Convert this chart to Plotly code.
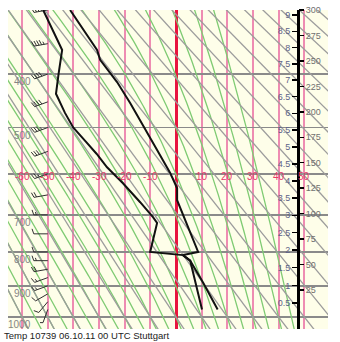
import numpy as np
import plotly.graph_objects as go

# ---------------- data ----------------
temp_p = [975, 890, 825, 809, 800, 663, 634, 598, 547, 500, 452, 414, 376, 360, 300]
temp_t = [16.2, 10.5, 5.5, 2.7, 8.6, 0.4, 0.4, -2.3, -7.4, -12.5, -17.9, -23.0, -29.6, -30.8, -41.3]

dew_p = [975, 825, 809, 800, 721, 706, 668, 622, 585, 555, 530, 500, 471, 435, 400, 360, 300]
dew_t = [10.1, 5.5, 2.7, -10.1, -7.4, -9.0, -14.0, -20.7, -26.9, -31.0, -35.0, -40.1, -43.3, -46.8, -45.8, -44.4, -51.8]

wind_p = [975, 950, 925, 900, 875, 850, 825, 800, 750, 700, 650, 600, 550, 500, 450, 400, 350, 300]
wind_dir = [200, 220, 240, 250, 250, 260, 270, 270, 270, 270, 260, 250, 250, 250, 250, 250, 260, 260]
wind_kt = [5, 10, 10, 15, 15, 20, 15, 10, 10, 15, 20, 25, 30, 35, 40, 40, 45, 45]

isobars = [300, 400, 500, 600, 700, 800, 900, 1000]
isobar_labels = [400, 500, 700, 800, 900, 1000]
isotherms = [-60, -50, -40, -30, -20, -10, 0, 10, 20, 30, 40, 50]
isotherm_labels = [-60, -50, -40, -30, -20, -10, 10, 20, 30, 40, 50]
dry_theta_c = list(range(-70, 200, 10))          # potential temperature, deg C
moist_thetaw_c = list(range(-60, 50, 5))         # wet-bulb pot. temperature, deg C
km_labels = [0.5, 1, 1.5, 2, 2.5, 3, 3.5, 4, 4.5, 5, 5.5, 6, 6.5, 7, 7.5, 8, 8.5, 9]
right_scale = [25, 50, 75, 100, 125, 150, 175, 200, 225, 250, 275, 300]
caption = "Temp 10739 06.10.11 00 UTC Stuttgart"

# ---------------- diagram geometry (Stuve: y = p^kappa) ----------------
KAPPA = 0.286
W, H = 340, 342
ML, MR, MT, MB = 8, 12, 10, 13
X_RANGE = [-65.5, 59.2]
P_BOTTOM, P_TOP = 1040.0, 300.0


def pk(p):
    return np.power(np.asarray(p, dtype=float), KAPPA)


Y_RANGE = [float(pk(P_BOTTOM)), float(pk(P_TOP))]
PW, PH = W - ML - MR, H - MT - MB
SX = PW / (X_RANGE[1] - X_RANGE[0])        # px per deg C
SY = PH / (Y_RANGE[0] - Y_RANGE[1])        # px per pk unit

p_grid = np.linspace(P_BOTTOM + 10, P_TOP - 5, 120)

# dry adiabats
dx, dy = [], []
for th in dry_theta_c:
    t = (th + 273.15) * (p_grid / 1000.0) ** KAPPA - 273.15
    dx += list(t) + [None]
    dy += list(pk(p_grid)) + [None]

# moist adiabats (numerical integration of pseudo-adiabatic lapse rate)
Rd, Cp, Lv, EPS = 287.04, 1005.7, 2.501e6, 0.622


def dTdp(T, p):
    es = 6.112 * np.exp(17.67 * (T - 273.15) / (T - 29.65))
    rs = EPS * es / (p - es)
    return (Rd * T + Lv * rs) / (Cp + Lv * Lv * rs * EPS / (Rd * T * T)) / p


def integrate(T0, p0, p1, n=140):
    ps = np.linspace(p0, p1, n)
    Ts = [T0]
    for i in range(1, n):
        h = ps[i] - ps[i - 1]
        T, p = Ts[-1], ps[i - 1]
        k1 = dTdp(T, p)
        k2 = dTdp(T + h * k1 / 2, p + h / 2)
        k3 = dTdp(T + h * k2 / 2, p + h / 2)
        k4 = dTdp(T + h * k3, p + h)
        Ts.append(T + h * (k1 + 2 * k2 + 2 * k3 + k4) / 6)
    return ps, np.array(Ts)


mx, my = [], []
for tw in moist_thetaw_c:
    pu, tu = integrate(tw + 273.15, 1000.0, P_TOP - 5)
    pd, td = integrate(tw + 273.15, 1000.0, P_BOTTOM + 10, 20)
    ps = np.concatenate([pd[::-1], pu[1:]])
    ts = np.concatenate([td[::-1], tu[1:]]) - 273.15
    mx += list(ts) + [None]
    my += list(pk(ps)) + [None]

# wind barbs (pixel-consistent lengths)
ST_T = -50.0
STAFF, FULL, HALF, GAP = 14.0, 5.0, 2.8, 2.6
bx, by = [], []
for p, d, s in zip(wind_p, wind_dir, wind_kt):
    r = np.deg2rad(d)
    ux, uy = np.sin(r), np.cos(r)          # toward where wind comes from (screen east / up)
    fx, fy = uy, -ux                        # clockwise perpendicular
    y0 = float(pk(p))

    def pt(px_e, px_up):
        return ST_T + px_e / SX, y0 - px_up / SY

    tipx, tipy = STAFF * ux, STAFF * uy
    a = pt(0, 0)
    b = pt(tipx, tipy)
    bx += [a[0], b[0], None]
    by += [a[1], b[1], None]
    n_full, n_half = s // 10, (s % 10) // 5
    pos = 0.0
    for k in range(n_full + n_half):
        ln = FULL if k < n_full else HALF
        sx0 = tipx - pos * ux
        sy0 = tipy - pos * uy
        ex = sx0 + ln * fx + 0.35 * ln * ux
        ey = sy0 + ln * fy + 0.35 * ln * uy
        s0 = pt(sx0, sy0)
        e0 = pt(ex, ey)
        bx += [s0[0], e0[0], None]
        by += [s0[1], e0[1], None]
        pos += GAP

fig = go.Figure()
fig.add_trace(go.Scatter(x=mx, y=my, mode="lines", line=dict(color="#7fcb73", width=1.3),
                         hoverinfo="skip", showlegend=False))
fig.add_trace(go.Scatter(x=dx, y=dy, mode="lines", line=dict(color="#9c9c9c", width=1.3),
                         hoverinfo="skip", showlegend=False))
fig.add_trace(go.Scatter(x=bx, y=by, mode="lines", line=dict(color="#303030", width=1),
                         hoverinfo="skip", showlegend=False))
fig.add_trace(go.Scatter(x=dew_t, y=pk(dew_p), mode="lines", line=dict(color="#111111", width=2),
                         showlegend=False))
fig.add_trace(go.Scatter(x=temp_t, y=pk(temp_p), mode="lines", line=dict(color="#111111", width=2),
                         showlegend=False))
# carriers for the height / right scales
fig.add_trace(go.Scatter(x=[0], y=[1], yaxis="y3", mode="markers", opacity=0, showlegend=False,
                         hoverinfo="skip"))
fig.add_trace(go.Scatter(x=[0], y=[100], yaxis="y4", mode="markers", opacity=0, showlegend=False,
                         hoverinfo="skip"))

FONT = "Liberation Sans, Arial, sans-serif"
ann = []
for p in isobar_labels:
    ann.append(dict(x=-55.8, y=float(pk(p)), xref="x", yref="y", text=str(p), showarrow=False,
                    xanchor="right", yanchor="top", yshift=0,
                    font=dict(family=FONT, size=10, color="#858585")))
for t in isotherm_labels:
    ann.append(dict(x=t, y=float(pk(600)), xref="x", yref="y", text=str(t), showarrow=False,
                    xanchor="center", yanchor="middle", xshift=0, yshift=-3,
                    font=dict(family=FONT, size=10, color="#e8386a")))
ann.append(dict(x=-6 / PW, y=-6.5 / PH, xref="paper", yref="paper", text=caption, showarrow=False,
                xanchor="left", yanchor="middle", font=dict(family=FONT, size=9.5, color="#222222")))


def std_p(h_km):
    return 1013.25 * (1 - 2.25577e-5 * h_km * 1000) ** 5.25588


km_vals = [float(pk(std_p(h))) for h in km_labels]
km_text = [("%g" % h) for h in km_labels]

AX_POS = (298 - ML) / PW
v_per_px = 275 / 280.0
R_TOP = 300 + (10 - MT) * v_per_px
R_BOT = 300 - PH * v_per_px

fig.update_layout(
    width=W, height=H,
    margin=dict(l=ML, r=MR, t=MT, b=MB, autoexpand=False),
    paper_bgcolor="white", plot_bgcolor="#fefee9",
    showlegend=False, hovermode=False,
    annotations=ann,
    xaxis=dict(range=X_RANGE, showticklabels=False, ticks="", tickvals=isotherms,
               showgrid=True, gridcolor="#ee8cb2", gridwidth=2,
               zeroline=True, zerolinecolor="#e8153f", zerolinewidth=3, showline=False),
    yaxis=dict(range=Y_RANGE, showticklabels=False, ticks="",
               tickvals=[float(v) for v in pk(isobars)],
               showgrid=True, gridcolor="#8a8a8a", gridwidth=1.5, zeroline=False, showline=False),
    yaxis3=dict(range=Y_RANGE, overlaying="y", anchor="free", position=AX_POS, side="left",
                tickvals=km_vals, ticktext=km_text, ticks="outside", ticklen=5, tickwidth=1.5,
                tickcolor="black", showline=True, linecolor="black", linewidth=2.5,
                showgrid=False, zeroline=False,
                tickfont=dict(family=FONT, size=9, color="#5d6288")),
    yaxis4=dict(range=[R_BOT, R_TOP], overlaying="y", anchor="free", position=AX_POS, side="right",
                tickvals=right_scale, ticks="outside", ticklen=5, tickwidth=1.5, tickcolor="black",
                showline=False, showgrid=False, zeroline=False,
                tickfont=dict(family=FONT, size=9, color="#707070")),
)

fig.write_html("out.html", config={"displayModeBar": False, "staticPlot": True},
               post_script="document.body.style.margin='0px';document.body.style.overflow='hidden';")
